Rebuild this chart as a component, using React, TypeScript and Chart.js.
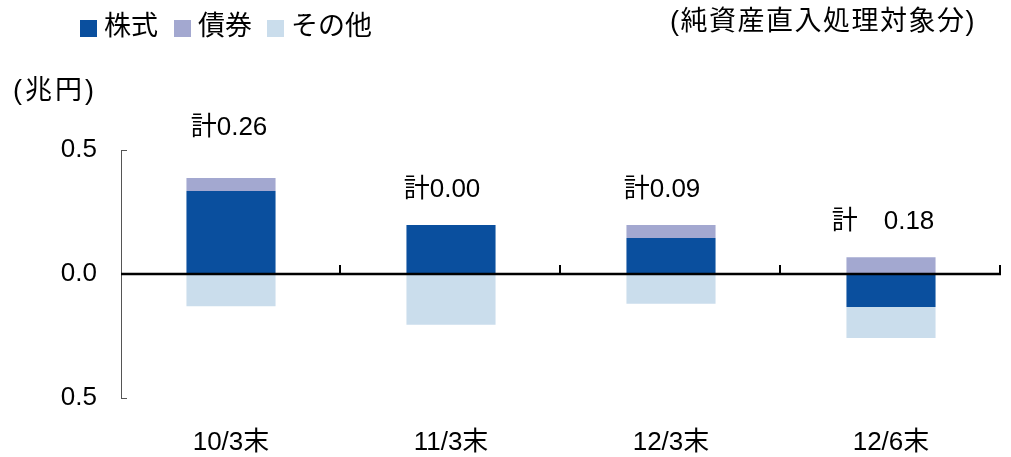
import React, { useEffect, useRef } from "react";
import { Chart, registerables } from "chart.js";
Chart.register(...registerables);

const categories = ["10/3末", "11/3末", "12/3末", "12/6末"];
const stocks = [0.335, 0.198, 0.145, -0.133];
const bonds = [0.052, 0.0, 0.053, 0.068];
const others = [-0.13, -0.205, -0.12, -0.125];
const totalLabels = ["計0.26", "計0.00", "計0.09", "計　0.18"];
const totalLabelY = [0.59, 0.34, 0.34, 0.21];
const seriesNames = ["株式", "債券", "その他"];
const colors = ["#0A4F9E", "#A3A8D0", "#CADDEC"];
const unitLabel = "(兆円)";
const noteLabel = "(純資産直入処理対象分)";

const FONT = "'Liberation Sans', Arial, 'Noto Sans CJK JP', sans-serif";
const FS = 26;
const FS_CJK = 27;
const labelDx = [-2, -9, -9, -8];

const overlay = {
  id: "overlay",
  afterDatasetsDraw(chart: any) {
    const { ctx, chartArea, scales } = chart;
    const xs = scales.x;
    const ys = scales.y;
    const left = chartArea.left;
    const right = chartArea.right;
    const top = chartArea.top;
    const bottom = chartArea.bottom;
    ctx.save();
    // y axis line
    ctx.strokeStyle = "#555";
    ctx.lineWidth = 1;
    ctx.beginPath();
    ctx.moveTo(left + 0.5, top);
    ctx.lineTo(left + 0.5, bottom);
    [0.5, 0, -0.5].forEach((v) => {
      const y = Math.round(ys.getPixelForValue(v)) + 0.5;
      ctx.moveTo(left, y);
      ctx.lineTo(left + 6, y);
    });
    ctx.stroke();
    // zero line
    const zy = ys.getPixelForValue(0);
    ctx.strokeStyle = "#000";
    ctx.lineWidth = 2.5;
    ctx.beginPath();
    ctx.moveTo(left, zy);
    ctx.lineTo(right, zy);
    ctx.stroke();
    // category boundary ticks
    ctx.lineWidth = 2;
    const slot = (right - left) / categories.length;
    ctx.beginPath();
    for (let i = 1; i <= categories.length; i++) {
      const x = Math.round(left + i * slot) - 1;
      ctx.moveTo(x, zy - 9);
      ctx.lineTo(x, zy);
    }
    ctx.stroke();
    // total labels
    ctx.fillStyle = "#000";
    ctx.font = `${FS}px ${FONT}`;
    ctx.textAlign = "center";
    ctx.textBaseline = "middle";
    categories.forEach((_, i) => {
      const x = xs.getPixelForValue(i) + labelDx[i];
      const y = ys.getPixelForValue(totalLabelY[i]);
      ctx.fillText(totalLabels[i], x, y);
    });
    // legend
    ctx.font = `${FS_CJK}px ${FONT}`;
    ctx.textAlign = "left";
    const legendX = [80, 174, 267];
    seriesNames.forEach((name, i) => {
      ctx.fillStyle = colors[i];
      ctx.fillRect(legendX[i], 20, 17, 17);
      ctx.fillStyle = "#000";
      ctx.fillText(name, legendX[i] + 24, 28);
    });
    // unit & note
    (ctx as any).letterSpacing = "3px";
    ctx.fillText(unitLabel, 13, 92);
    (ctx as any).letterSpacing = "1.5px";
    ctx.textAlign = "right";
    ctx.fillText(noteLabel, 976, 23);
    (ctx as any).letterSpacing = "0px";
    ctx.restore();
  },
};

export default function App() {
  const ref = useRef<HTMLCanvasElement>(null);
  useEffect(() => {
    document.body.style.margin = "0";
    const chart = new Chart(ref.current!, {
      type: "bar",
      data: {
        labels: categories,
        datasets: [
          { label: seriesNames[0], data: stocks, backgroundColor: colors[0] },
          { label: seriesNames[1], data: bonds, backgroundColor: colors[1] },
          { label: seriesNames[2], data: others, backgroundColor: colors[2] },
        ],
      },
      options: {
        responsive: false,
        animation: false,
        devicePixelRatio: 1,
        layout: { padding: { top: 150, left: 0, right: 10, bottom: 0 } },
        datasets: { bar: { categoryPercentage: 1, barPercentage: 0.405 } },
        plugins: { legend: { display: false }, tooltip: { enabled: false } },
        scales: {
          x: {
            stacked: true,
            grid: { display: false, drawTicks: false },
            border: { display: false },
            ticks: { font: { family: FONT, size: FS }, color: "#000", padding: 29 },
            afterFit: (s: any) => { s.height = 59; },
          },
          y: {
            stacked: true,
            min: -0.5,
            max: 0.5,
            grid: { display: false, drawTicks: false },
            border: { display: false },
            ticks: {
              stepSize: 0.5,
              font: { family: FONT, size: FS },
              color: "#000",
              padding: 24,
              callback: (v: any) => Math.abs(Number(v)).toFixed(1),
            },
            afterFit: (s: any) => { s.width = 121; },
          },
        },
      },
      plugins: [overlay],
    } as any);
    return () => chart.destroy();
  }, []);
  return (
    <div style={{ width: 1011, height: 457 }}>
      <canvas ref={ref} width={1011} height={457} style={{ display: "block" }} />
    </div>
  );
}
